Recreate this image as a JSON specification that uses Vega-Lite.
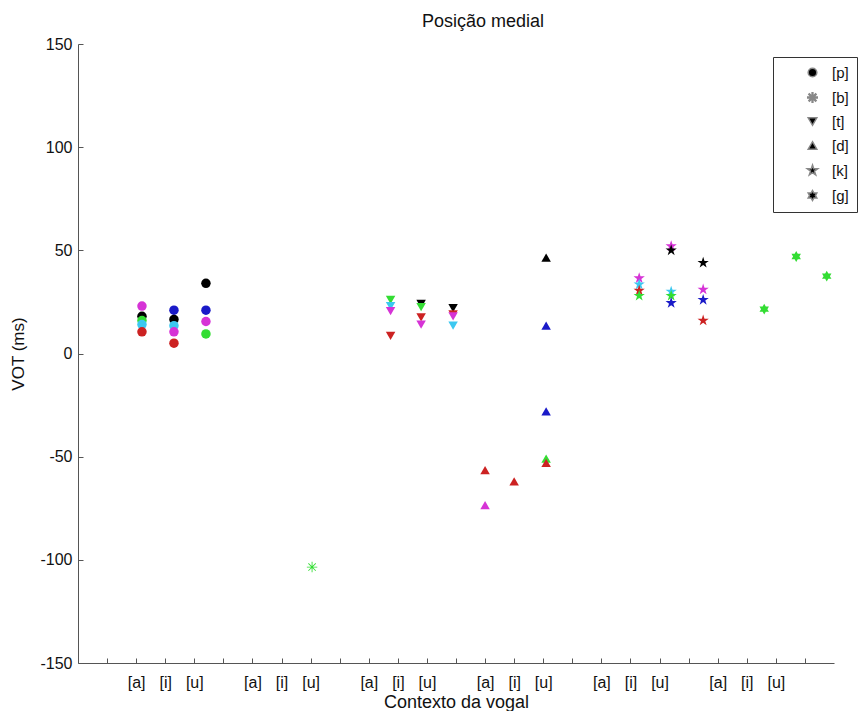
{
  "$schema": "https://vega.github.io/schema/vega-lite/v6.json",
  "width": 756,
  "height": 619,
  "autosize": {"type": "none"},
  "padding": {"left": 78, "top": 44, "right": 34, "bottom": 48},
  "background": "white",
  "config": {"view": {"stroke": null}, "font": "Liberation Sans"},
  "title": {"text": "Posição medial", "fontSize": 18, "fontWeight": "normal", "color": "#111111", "dx": 27, "offset": 5, "anchor": "middle"},
  "data": {"values": [
    {"x": 2.2, "vot": 23, "cons": "[p]", "cor": "magenta"},
    {"x": 2.2, "vot": 18, "cons": "[p]", "cor": "preto"},
    {"x": 2.2, "vot": 16, "cons": "[p]", "cor": "verde"},
    {"x": 2.2, "vot": 14, "cons": "[p]", "cor": "ciano"},
    {"x": 2.2, "vot": 10.5, "cons": "[p]", "cor": "vermelho"},
    {"x": 3.3, "vot": 21, "cons": "[p]", "cor": "azul"},
    {"x": 3.3, "vot": 16.5, "cons": "[p]", "cor": "preto"},
    {"x": 3.3, "vot": 13.5, "cons": "[p]", "cor": "ciano"},
    {"x": 3.3, "vot": 10.5, "cons": "[p]", "cor": "magenta"},
    {"x": 3.3, "vot": 5, "cons": "[p]", "cor": "vermelho"},
    {"x": 4.4, "vot": 34, "cons": "[p]", "cor": "preto"},
    {"x": 4.4, "vot": 21, "cons": "[p]", "cor": "azul"},
    {"x": 4.4, "vot": 15.5, "cons": "[p]", "cor": "magenta"},
    {"x": 4.4, "vot": 9.5, "cons": "[p]", "cor": "verde"},
    {"x": 8.05, "vot": -103.5, "cons": "[b]", "cor": "verde"},
    {"x": 10.75, "vot": 26, "cons": "[t]", "cor": "verde"},
    {"x": 10.75, "vot": 23, "cons": "[t]", "cor": "ciano"},
    {"x": 10.75, "vot": 20.5, "cons": "[t]", "cor": "magenta"},
    {"x": 10.75, "vot": 8.5, "cons": "[t]", "cor": "vermelho"},
    {"x": 11.8, "vot": 24, "cons": "[t]", "cor": "preto"},
    {"x": 11.8, "vot": 22.5, "cons": "[t]", "cor": "verde"},
    {"x": 11.8, "vot": 17.5, "cons": "[t]", "cor": "vermelho"},
    {"x": 11.8, "vot": 14, "cons": "[t]", "cor": "magenta"},
    {"x": 12.9, "vot": 22, "cons": "[t]", "cor": "preto"},
    {"x": 12.9, "vot": 13.5, "cons": "[t]", "cor": "ciano"},
    {"x": 12.9, "vot": 19, "cons": "[t]", "cor": "vermelho"},
    {"x": 12.9, "vot": 18, "cons": "[t]", "cor": "magenta"},
    {"x": 14.0, "vot": -56.5, "cons": "[d]", "cor": "vermelho"},
    {"x": 14.0, "vot": -73.5, "cons": "[d]", "cor": "magenta"},
    {"x": 15.0, "vot": -62, "cons": "[d]", "cor": "vermelho"},
    {"x": 16.1, "vot": 46.5, "cons": "[d]", "cor": "preto"},
    {"x": 16.1, "vot": 13.5, "cons": "[d]", "cor": "azul"},
    {"x": 16.1, "vot": -28, "cons": "[d]", "cor": "azul"},
    {"x": 16.1, "vot": -51, "cons": "[d]", "cor": "verde"},
    {"x": 16.1, "vot": -53, "cons": "[d]", "cor": "vermelho"},
    {"x": 19.3, "vot": 36.5, "cons": "[k]", "cor": "magenta"},
    {"x": 19.3, "vot": 33.5, "cons": "[k]", "cor": "ciano"},
    {"x": 19.3, "vot": 30.5, "cons": "[k]", "cor": "vermelho"},
    {"x": 19.3, "vot": 28, "cons": "[k]", "cor": "verde"},
    {"x": 20.4, "vot": 52, "cons": "[k]", "cor": "magenta"},
    {"x": 20.4, "vot": 50, "cons": "[k]", "cor": "preto"},
    {"x": 20.4, "vot": 30, "cons": "[k]", "cor": "ciano"},
    {"x": 20.4, "vot": 28, "cons": "[k]", "cor": "verde"},
    {"x": 20.4, "vot": 24.5, "cons": "[k]", "cor": "azul"},
    {"x": 21.5, "vot": 44, "cons": "[k]", "cor": "preto"},
    {"x": 21.5, "vot": 31, "cons": "[k]", "cor": "magenta"},
    {"x": 21.5, "vot": 26, "cons": "[k]", "cor": "azul"},
    {"x": 21.5, "vot": 16, "cons": "[k]", "cor": "vermelho"},
    {"x": 23.6, "vot": 21.5, "cons": "[g]", "cor": "verde"},
    {"x": 24.7, "vot": 47, "cons": "[g]", "cor": "verde"},
    {"x": 25.75, "vot": 37.5, "cons": "[g]", "cor": "verde"}
  ]},
  "mark": {"type": "point", "filled": true, "opacity": 1, "size": 90},
  "encoding": {
    "x": {
      "field": "x", "type": "quantitative",
      "scale": {"domain": [0, 26], "nice": false, "zero": false},
      "axis": {
        "values": [1,2,3,4,5,6,7,8,9,10,11,12,13,14,15,16,17,18,19,20,21,22,23,24,25],
        "labelExpr": "datum.value % 4 == 2 ? '[a]' : datum.value % 4 == 3 ? '[i]' : datum.value % 4 == 0 ? '[u]' : ''",
        "title": "Contexto da vogal", "grid": false, "tickSize": -5,
        "domainColor": "#555555", "tickColor": "#555555",
        "labelFontSize": 16, "labelColor": "#111111", "labelPadding": 16,
        "titleFontSize": 18, "titleFontWeight": "normal", "titleColor": "#111111", "titlePadding": 3
      }
    },
    "y": {
      "field": "vot", "type": "quantitative",
      "scale": {"domain": [-150, 150], "nice": false},
      "axis": {
        "values": [-150, -100, -50, 0, 50, 100, 150],
        "labelExpr": "'' + datum.value",
        "title": "VOT (ms)", "grid": false, "tickSize": -5,
        "domainColor": "#555555", "tickColor": "#555555",
        "labelFontSize": 16, "labelColor": "#111111", "labelPadding": 11,
        "titleFontSize": 17, "titleFontWeight": "normal", "titleColor": "#111111", "titlePadding": 12
      }
    },
    "color": {
      "field": "cor", "type": "nominal",
      "scale": {"domain": ["preto", "azul", "ciano", "verde", "magenta", "vermelho"],
                "range": ["#000000", "#1a1ac8", "#3cc8f0", "#33dd33", "#d633d6", "#cc2222"]},
      "legend": null
    },
    "shape": {
      "field": "cons", "type": "nominal",
      "scale": {
        "domain": ["[p]", "[b]", "[t]", "[d]", "[k]", "[g]"],
        "range": [
          "circle",
          "M-0.09,-1.1L0.09,-1.1L0.09,1.1L-0.09,1.1ZM-1.1,-0.09L1.1,-0.09L1.1,0.09L-1.1,0.09ZM0.7156,-0.8401L0.8401,-0.7156L-0.7156,0.8401L-0.8401,0.7156ZM-0.8401,-0.7156L-0.7156,-0.8401L0.8401,0.7156L0.7156,0.8401Z",
          "triangle-down",
          "triangle-up",
          "M0,-1.25L0.2806,-0.3863L1.1889,-0.3863L0.4541,0.1475L0.7348,1.0113L0,0.4775L-0.7348,1.0113L-0.4541,0.1475L-1.1889,-0.3863L-0.2806,-0.3863Z",
          "M0,-1.15L0.332,-0.575L0.996,-0.575L0.664,0L0.996,0.575L0.332,0.575L0,1.15L-0.332,0.575L-0.996,0.575L-0.664,0L-0.996,-0.575L-0.332,-0.575Z"
        ]
      },
      "legend": {
        "title": null, "orient": "none", "legendX": 695, "legendY": 13,
        "strokeColor": "#333333", "fillColor": "white", "padding": 8,
        "symbolFillColor": "black", "symbolSize": 75,
        "symbolOffset": 24, "labelOffset": 12, "labelFontSize": 15, "labelColor": "#111111",
        "labelExpr": "datum.label + '   '",
        "rowPadding": 8
      }
    }
  }
}
